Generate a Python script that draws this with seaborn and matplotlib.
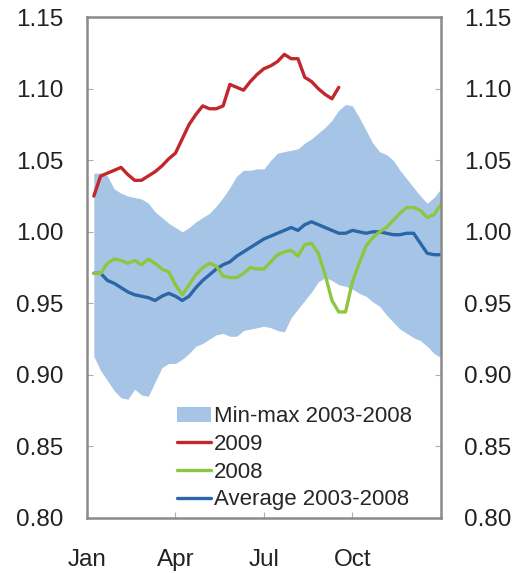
import numpy as np
import pandas as pd
import matplotlib
matplotlib.use("Agg")
import matplotlib.pyplot as plt
import seaborn as sns
from matplotlib.patches import Patch
from matplotlib.lines import Line2D

# weekly index values, week 1..52
weeks = list(range(1, 53))

band_max = [1.041, 1.041, 1.039, 1.030, 1.027, 1.025, 1.024, 1.023, 1.020, 1.014,
            1.010, 1.006, 1.003, 1.000, 1.003, 1.007, 1.010, 1.013, 1.018, 1.024,
            1.031, 1.039, 1.043, 1.043, 1.044, 1.044, 1.050, 1.055, 1.056, 1.057,
            1.058, 1.062, 1.065, 1.069, 1.073, 1.078, 1.085, 1.089, 1.088, 1.080,
            1.071, 1.062, 1.056, 1.054, 1.050, 1.043, 1.037, 1.031, 1.025, 1.020,
            1.024, 1.030]

band_min = [0.913, 0.903, 0.896, 0.889, 0.884, 0.883, 0.890, 0.886, 0.885, 0.895,
            0.905, 0.908, 0.908, 0.911, 0.915, 0.920, 0.922, 0.925, 0.928, 0.929,
            0.927, 0.927, 0.931, 0.932, 0.933, 0.934, 0.933, 0.931, 0.930, 0.940,
            0.946, 0.952, 0.958, 0.965, 0.968, 0.966, 0.963, 0.962, 0.960, 0.957,
            0.955, 0.951, 0.948, 0.942, 0.937, 0.932, 0.929, 0.926, 0.924, 0.920,
            0.915, 0.912]

avg_0308 = [0.971, 0.971, 0.966, 0.964, 0.961, 0.958, 0.956, 0.955, 0.954, 0.952,
            0.955, 0.957, 0.955, 0.952, 0.955, 0.961, 0.966, 0.970, 0.974, 0.977,
            0.979, 0.983, 0.986, 0.989, 0.992, 0.995, 0.997, 0.999, 1.001, 1.003,
            1.001, 1.005, 1.007, 1.005, 1.003, 1.001, 0.999, 0.999, 1.001, 1.000,
            0.999, 1.000, 1.000, 0.999, 0.998, 0.998, 0.999, 0.999, 0.992, 0.985,
            0.984, 0.984]

y2008 = [0.971, 0.971, 0.978, 0.981, 0.980, 0.978, 0.980, 0.977, 0.981, 0.978,
         0.974, 0.972, 0.963, 0.956, 0.963, 0.970, 0.975, 0.978, 0.976, 0.969,
         0.968, 0.968, 0.971, 0.975, 0.974, 0.974, 0.979, 0.984, 0.986, 0.987,
         0.983, 0.991, 0.992, 0.985, 0.970, 0.952, 0.944, 0.944, 0.965, 0.978,
         0.990, 0.996, 1.000, 1.003, 1.008, 1.013, 1.017, 1.017, 1.015, 1.010,
         1.012, 1.019]

# 2009 only runs to late September
y2009 = [1.025, 1.039, 1.041, 1.043, 1.045, 1.040, 1.036, 1.036, 1.039, 1.042,
         1.046, 1.051, 1.055, 1.065, 1.075, 1.082, 1.088, 1.086, 1.086, 1.088,
         1.103, 1.101, 1.099, 1.105, 1.110, 1.114, 1.116, 1.119, 1.124, 1.121,
         1.121, 1.108, 1.105, 1.100, 1.096, 1.093, 1.101]

month_ticks = [0, 13, 26, 39]
month_labels = ["Jan", "Apr", "Jul", "Oct"]
y_ticks = [0.80, 0.85, 0.90, 0.95, 1.00, 1.05, 1.10, 1.15]

band_col = "#a6c5e6"
red = "#c1272d"
green = "#8dc63f"
blue = "#2b66a8"

sns.set_style("white")
plt.rcParams["font.family"] = ["Liberation Sans", "DejaVu Sans"]

fig = plt.figure(figsize=(5.18, 5.73), dpi=100)
ax = fig.add_axes([0.168, 0.096, 0.683, 0.874])

ax.fill_between(weeks, band_min, band_max, color=band_col, linewidth=0)
sns.lineplot(x=weeks, y=avg_0308, color=blue, linewidth=2.4, ax=ax)
sns.lineplot(x=weeks, y=y2008, color=green, linewidth=2.4, ax=ax)
sns.lineplot(x=list(range(1, len(y2009) + 1)), y=y2009, color=red, linewidth=2.4, ax=ax)

ax.set_xlim(0, 52)
ax.set_ylim(0.80, 1.15)
ax.set_xticks(month_ticks)
ax.set_xticklabels(month_labels)
ax.set_yticks(y_ticks)
ax.set_yticklabels([f"{v:.2f}" for v in y_ticks])

for s in ax.spines.values():
    s.set_color("#8a8a8a")
    s.set_linewidth(1.8)

ax.tick_params(axis="y", direction="in", length=4, color="#b0b0b0",
               left=True, right=True, labelleft=True, labelright=True,
               labelsize=17.5, pad=17, labelcolor="#222222")
ax.tick_params(axis="x", direction="in", length=4, color="#b0b0b0",
               bottom=True, labelsize=17.5, pad=22, labelcolor="#222222")

handles = [Patch(facecolor=band_col, edgecolor="none"),
           Line2D([], [], color=red, linewidth=2.4),
           Line2D([], [], color=green, linewidth=2.4),
           Line2D([], [], color=blue, linewidth=2.4)]
labels = ["Min-max 2003-2008", "2009", "2008", "Average 2003-2008"]
ax.legend(handles, labels, loc="lower left", bbox_to_anchor=(0.255, 0.015),
          frameon=False, fontsize=16, handlelength=1.5, handletextpad=0.15,
          labelspacing=0.3, borderpad=0, borderaxespad=0)

fig.savefig("out.png", dpi=100)
